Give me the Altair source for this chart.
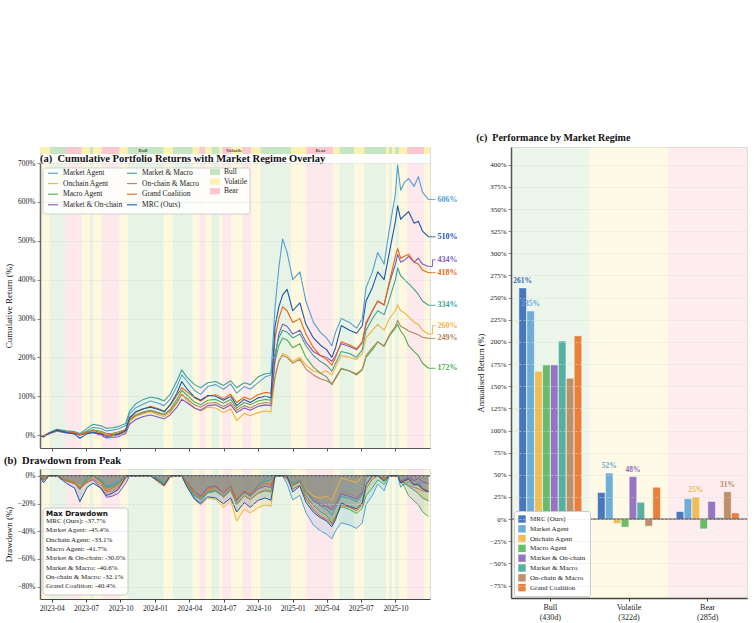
import altair as alt
import pandas as pd

FONT = "Liberation Serif"

# ---------------- data: cumulative returns (%) ----------------
dates = ["2023-03-01","2023-03-10","2023-03-25","2023-04-15","2023-05-10","2023-06-01","2023-06-15",
         "2023-07-05","2023-07-20","2023-08-10","2023-08-25","2023-09-10","2023-09-25","2023-10-15",
         "2023-10-25","2023-11-10","2023-12-01","2023-12-20",
         "2024-01-10","2024-01-25","2024-02-10","2024-02-28","2024-03-12","2024-03-25","2024-04-15",
         "2024-05-01","2024-05-20","2024-06-10","2024-07-01","2024-07-20","2024-08-05","2024-08-25",
         "2024-09-10","2024-10-01","2024-10-20","2024-11-04","2024-11-15","2024-11-25","2024-12-05",
         "2024-12-17",
         "2025-01-01","2025-01-20","2025-02-05","2025-02-25","2025-03-15","2025-04-01","2025-04-15",
         "2025-04-25","2025-05-10","2025-06-01","2025-06-20","2025-07-05","2025-07-15","2025-08-01",
         "2025-08-15","2025-09-01","2025-09-15","2025-10-01","2025-10-07","2025-10-15","2025-10-25",
         "2025-11-05","2025-11-20","2025-12-01","2025-12-12","2025-12-28"]

market_agent = [0,-3,6,13,9,7,2,12,20,17,11,13,16,25,55,70,80,88,
                82,76,92,125,155,140,115,105,125,130,118,132,108,125,118,135,150,155,330,430,505,470,
                400,420,345,290,265,250,230,265,300,290,275,300,380,420,470,440,530,620,695,630,650,660,640,665,625,606]
onchain_agent = [0,-2,5,11,8,6,3,6,8,3,-4,-3,0,8,35,48,55,60,
                 52,48,58,82,105,90,70,62,72,70,58,68,38,56,50,58,62,60,150,190,210,205,
                 190,200,180,165,160,165,155,175,205,200,195,210,250,270,285,270,300,320,335,320,315,305,290,285,270,260]
macro_agent = [0,-3,5,12,9,7,2,9,14,10,4,5,8,14,40,52,60,64,
               58,54,66,92,115,104,85,78,90,92,82,92,70,84,78,88,92,90,190,230,250,245,
               225,235,200,175,160,150,130,148,172,165,155,168,200,220,240,228,255,275,285,268,255,230,215,205,185,172]
market_onchain = [0,-2,4,10,6,4,0,5,7,0,-7,-6,-4,4,28,40,48,52,
                  46,42,52,72,92,84,70,64,76,78,68,78,58,70,64,74,78,76,200,260,285,280,
                  260,270,240,215,205,200,190,205,235,228,220,238,285,320,345,335,390,440,465,445,450,460,445,455,440,434]
market_macro = [0,-2,6,15,11,9,4,18,28,24,18,19,22,30,62,80,92,98,
                94,88,105,140,168,150,130,122,135,138,128,140,122,135,130,150,158,160,210,250,270,265,
                250,260,230,205,190,180,165,185,215,210,200,220,270,300,320,310,350,400,430,410,400,390,375,362,345,334]
onchain_macro = [0,-2,5,11,8,6,2,6,9,4,-2,-1,2,10,38,50,58,62,
                 56,52,62,85,105,95,78,72,82,84,74,84,64,76,70,80,84,82,150,190,205,200,
                 185,195,170,155,145,140,132,145,170,165,158,170,205,225,240,230,258,280,295,280,275,268,262,258,252,249]
grand_coalition = [0,-3,5,12,8,6,1,8,12,7,0,2,5,15,42,58,68,74,
                   68,62,76,102,122,112,96,88,100,104,94,105,84,98,92,104,110,108,250,300,330,320,
                   290,300,260,225,205,195,180,200,240,232,222,240,290,320,345,335,395,460,480,455,460,465,445,440,425,418]
mrc_ours = [0,-5,4,13,7,3,-8,4,7,3,-3,-1,2,12,45,60,68,72,
            66,60,78,108,138,120,98,90,102,100,90,100,76,92,84,96,100,96,280,330,360,375,
            320,340,285,250,232,220,200,225,282,270,262,282,345,380,420,400,470,550,590,555,565,575,545,550,525,510]

SERIES = ["Market Agent", "Onchain Agent", "Macro Agent", "Market & On-chain",
          "Market & Macro", "On-chain & Macro", "Grand Coalition", "MRC (Ours)"]
COLORS = ["#519fd3", "#f3b23a", "#4caf50", "#7e57c2", "#3ba396", "#b5835a", "#e8650f", "#1a56b0"]
series_values = [market_agent, onchain_agent, macro_agent, market_onchain,
                 market_macro, onchain_macro, grand_coalition, mrc_ours]

# ---------------- regimes ----------------
REGIMES = ["Bull", "Volatile", "Bear"]
seg_start = ["2023-03-01","2023-03-27","2023-05-09","2023-06-20","2023-07-12","2023-07-20","2023-08-12",
             "2023-09-29","2023-10-20","2024-01-24","2024-02-17","2024-04-10","2024-04-28","2024-05-14",
             "2024-05-30","2024-06-20","2024-06-28","2024-07-22","2024-08-20","2024-09-13","2024-10-07",
             "2024-12-28","2025-02-06","2025-04-19","2025-05-05","2025-06-14","2025-07-10","2025-09-06",
             "2025-09-14","2025-09-22","2025-09-30","2025-10-11","2025-11-01","2025-12-16"]
seg_regime = ["Volatile","Bull","Bear","Volatile","Bull","Volatile","Bear","Volatile","Bull","Volatile",
              "Bull","Volatile","Bear","Volatile","Bull","Volatile","Bear","Volatile","Bear","Volatile",
              "Bull","Volatile","Bear","Volatile","Bull","Volatile","Bull","Volatile","Bull","Volatile",
              "Bull","Volatile","Bear","Volatile"]
seg_end = seg_start[1:] + ["2026-01-01"]
strip_label_dates = ["2023-11-30", "2024-07-29", "2025-03-16"]

# ---------------- panel (c) annualised returns ----------------
AGENTS = ["MRC (Ours)", "Market Agent", "Onchain Agent", "Macro Agent", "Market & On-chain",
          "Market & Macro", "On-chain & Macro", "Grand Coalition"]
AGENT_COLORS = ["#3a6cb8", "#62a8d6", "#f2b84a", "#5cb85c", "#8e6bbf", "#4aab9a", "#b8895f", "#e8762b"]
regime_days = [430, 322, 285]
ann_bull = [261, 235, 167, 174, 174, 201, 159, 207]
ann_volatile = [30, 52, -5, -9, 48, 19, -8, 36]
ann_bear = [8.6, 23, 25, -11, 20, 2, 31, 7]

# ---------------- max drawdown box ----------------
mdd_names = ["MRC (Ours)", "Market Agent", "Onchain Agent", "Macro Agent", "Market & On-chain",
             "Market & Macro", "On-chain & Macro", "Grand Coalition"]
mdd_values = [-37.7, -45.4, -33.1, -41.7, -30.0, -40.6, -32.1, -40.4]

x_tick_dates = ["2023-04-01","2023-07-01","2023-10-01","2024-01-01","2024-04-01","2024-07-01",
                "2024-10-01","2025-01-01","2025-04-01","2025-07-01","2025-10-01"]

# ---------------- build tables ----------------
rows = []
for name, vals in zip(SERIES, series_values):
    for d, v in zip(dates, vals):
        rows.append({"date": d, "series": name, "value": v})
df = pd.DataFrame(rows)

seg_df = pd.DataFrame({"start": seg_start, "end": seg_end, "regime": seg_regime})
strip_lab_df = pd.DataFrame({"d": strip_label_dates, "t": REGIMES})
reg_leg_df = pd.DataFrame({"regime": REGIMES})

final = {n: v[-1] for n, v in zip(SERIES, series_values)}
GAP = 33
label_y = {}
prev = None
for s in sorted(SERIES, key=lambda k: final[k]):
    y = final[s]
    if prev is not None and y < prev + GAP:
        y = prev + GAP
    label_y[s] = y
    prev = y
end_df = pd.DataFrame({"series": SERIES, "date": [dates[-1]] * len(SERIES),
                       "value": [final[s] for s in SERIES],
                       "label_y": [label_y[s] for s in SERIES],
                       "text": [f"{final[s]:.0f}%" for s in SERIES]})

rlabels = [f"{r}|({d}d)" for r, d in zip(REGIMES, regime_days)]
crow = []
for rl, vals in zip(rlabels, [ann_bull, ann_volatile, ann_bear]):
    for a, v in zip(AGENTS, vals):
        crow.append({"rlabel": rl, "agent": a, "value": v})
df_c = pd.DataFrame(crow)
df_c["rank"] = df_c.groupby("rlabel")["value"].rank(ascending=False)
top_c = df_c[df_c["rank"] <= 2].copy()
top_c["text"] = top_c["value"].map(lambda v: f"{v:.0f}%")
bg_c = pd.DataFrame({"rlabel": rlabels, "regime": REGIMES})

one = pd.DataFrame({"k": [0]})
mdd_text = "\n".join(f"{n}: {v:.1f}%" for n, v in zip(mdd_names, mdd_values))

# ---------------- shared settings ----------------
W, HB = 390, 130
TOP_A = 16            # strip + title band inside panel (a)
HA = 285 + TOP_A
WC, HC = 236, 451
REG_STRONG = ["#c6e5c2", "#fdf1b0", "#fbc8cf"]
MINUS = "\u2212"

AX = dict(labelFont=FONT, titleFont=FONT, titleFontWeight="normal", titleColor="#111",
          labelColor="#222")

xscale = alt.Scale(type="utc", nice=False,
                   domain=[alt.DateTime(year=2023, month=3, date=1, utc=True),
                           alt.DateTime(year=2026, month=1, date=1, utc=True)])
xticks = [alt.DateTime(year=int(s[:4]), month=int(s[5:7]), date=1, utc=True) for s in x_tick_dates]
reg_scale = alt.Scale(domain=REGIMES, range=REG_STRONG)
stroke_scale = alt.Scale(domain=SERIES, range=COLORS)
color_scale = alt.Scale(domain=SERIES, range=COLORS)

xax_a = alt.Axis(title=None, values=xticks, labels=False, ticks=True, tickSize=3, grid=False,
                 domainColor="#555", tickColor="#555", **AX)
xax_b = alt.Axis(title=None, values=xticks, format="%Y-%m", labelFontSize=7.5, tickSize=3,
                 grid=False, labelPadding=2, domainColor="#444", tickColor="#444", **AX)

ysc_a = alt.Scale(domain=[-33, 700], range=[HA, TOP_A], nice=False, zero=False)
yax_a = alt.Axis(title="Cumulative Return (%)", values=list(range(0, 701, 100)),
                 labelExpr="datum.value + '%'", grid=True, gridDash=[2, 2], gridColor="#d0d0d0",
                 gridWidth=0.6, zindex=1, tickSize=3, labelFontSize=7.5, titleFontSize=9,
                 domainWidth=1.5, domainColor="#666", titlePadding=4, labelPadding=2, **AX)

ysc_b = alt.Scale(domain=[-89, 5], nice=False, zero=False)
yax_b = alt.Axis(title="Drawdown (%)", values=[0, -20, -40, -60, -80],
                 labelExpr=f"datum.value < 0 ? '{MINUS}' + (-datum.value) + '%' : datum.value + '%'",
                 grid=True, gridDash=[2, 2], gridColor="#d0d0d0", gridWidth=0.6, zindex=1,
                 tickSize=3, labelFontSize=7.5, titleFontSize=9, domainWidth=1.5, domainColor="#666",
                 titlePadding=4, labelPadding=2, **AX)

def X(field, ax):
    return alt.X(f"{field}:T", scale=xscale, axis=ax)

THIN = SERIES[:6]

# ---------------- panel (a) ----------------
bg_a = alt.Chart(seg_df).mark_rect(opacity=0.42).encode(
    x=X("start", xax_a), x2="end:T", y=alt.value(TOP_A), y2=alt.value(HA),
    color=alt.Color("regime:N", scale=reg_scale, legend=None))

strip = alt.Chart(seg_df).mark_rect(opacity=1).encode(
    x=X("start", xax_a), x2="end:T", y=alt.value(0), y2=alt.value(7),
    color=alt.Color("regime:N", scale=reg_scale, legend=None))

# legend carrier for the regime patches (zero-area marks, own fill scale)
reg_leg = alt.Chart(reg_leg_df).mark_square(size=0, opacity=1).encode(
    x=alt.value(0), y=alt.value(TOP_A + 20),
    fill=alt.Fill("regime:N", scale=reg_scale,
                  legend=alt.Legend(orient="none", legendX=170, legendY=TOP_A + 4, title=None,
                                    symbolType="M-1,-0.62L1,-0.62L1,0.62L-1,0.62Z", symbolSize=100,
                                    symbolStrokeWidth=0, symbolOpacity=1, labelFont=FONT,
                                    labelFontSize=7.5, labelColor="#222", rowPadding=0.6,
                                    padding=0, labelOffset=4)))

strip_txt = alt.Chart(strip_lab_df).mark_text(font=FONT, fontSize=5, fontWeight="bold",
                                              color="#555", baseline="middle").encode(
    x=X("d", xax_a), y=alt.value(3.2), text="t:N")

leg_box = alt.Chart(one).mark_rect(fill="white", fillOpacity=0.85, stroke="#c8c8c8",
                                   strokeWidth=0.8, cornerRadius=2).encode(
    x=alt.value(3), x2=alt.value(210), y=alt.value(TOP_A + 5), y2=alt.value(TOP_A + 51))

def line_layer(data_chart, members, legend):
    return data_chart.transform_filter(
        alt.FieldOneOfPredicate(field="series", oneOf=members)
    ).mark_line(strokeJoin="round").encode(
        x=X("date", xax_a),
        y=alt.Y("value:Q", scale=ysc_a, axis=yax_a),
        stroke=alt.Stroke("series:N", scale=stroke_scale, legend=legend),
        strokeWidth=alt.StrokeWidth("series:N", legend=None,
                                    scale=alt.Scale(domain=SERIES,
                                                    range=[1.1] * 6 + [1.9, 2.7])),
        detail="series:N")

line_legend = alt.Legend(orient="none", legendX=7, legendY=TOP_A + 4, columns=2, values=SERIES,
                         title=None, labelFont=FONT, labelFontSize=7.5, labelColor="#222",
                         symbolType="stroke", symbolSize=100, symbolStrokeWidth=1.6,
                         rowPadding=0.6, columnPadding=1, labelOffset=4, padding=0, labelLimit=150)

base_a = alt.Chart(df)
la_thin = line_layer(base_a, THIN, line_legend)
la_gc = line_layer(base_a, ["Grand Coalition"], None)
la_mrc = line_layer(base_a, ["MRC (Ours)"], None)

lead_c = alt.Color("series:N", scale=color_scale, legend=None)
lead1 = alt.Chart(end_df).mark_rule(strokeWidth=0.9, x2Offset=4).encode(
    x=X("date", xax_a), x2="date:T", y=alt.Y("value:Q", scale=ysc_a, axis=yax_a), color=lead_c)
lead2 = alt.Chart(end_df).mark_rule(strokeWidth=0.9, xOffset=4).encode(
    x=X("date", xax_a), y=alt.Y("value:Q", scale=ysc_a, axis=yax_a), y2="label_y:Q", color=lead_c)
lead3 = alt.Chart(end_df).mark_rule(strokeWidth=0.9, xOffset=4, x2Offset=7).encode(
    x=X("date", xax_a), x2="date:T", y=alt.Y("label_y:Q", scale=ysc_a, axis=yax_a), color=lead_c)
end_txt = alt.Chart(end_df).mark_text(align="left", baseline="middle", dx=9, font=FONT,
                                      fontSize=8, fontWeight="bold").encode(
    x=X("date", xax_a), y=alt.Y("label_y:Q", scale=ysc_a, axis=yax_a), text="text:N", color=lead_c)

title_a = alt.Chart(one).mark_text(align="left", baseline="middle", font=FONT, fontSize=10.5,
                                   fontWeight="bold", color="#111").encode(
    x=alt.value(0), y=alt.value(11.6),
    text=alt.value("(a)\u00a0\u00a0Cumulative Portfolio Returns with Market Regime Overlay"))

panel_a = alt.layer(bg_a, strip, strip_txt, leg_box, la_thin, la_gc, la_mrc,
                    lead1, lead2, lead3, end_txt, title_a, reg_leg).resolve_scale(
    color="independent").properties(width=W, height=HA)

# ---------------- panel (b) ----------------
dd_base = alt.Chart(df).transform_window(
    peak="max(value)", groupby=["series"], sort=[alt.SortField("date")], frame=[None, 0]
).transform_calculate(dd="((1 + datum.value / 100) / (1 + datum.peak / 100) - 1) * 100")

bg_b = alt.Chart(seg_df).mark_rect(opacity=0.42).encode(
    x=X("start", xax_b), x2="end:T", y=alt.value(0), y2=alt.value(HB),
    fill=alt.Fill("regime:N", scale=reg_scale, legend=None))
area_b = dd_base.mark_area(opacity=0.16).encode(
    x=X("date", xax_b), y=alt.Y("dd:Q", scale=ysc_b, axis=yax_b, stack=None), y2=alt.datum(0),
    color=alt.Color("series:N", scale=color_scale, legend=None), detail="series:N")

wb = [1.0] * 6 + [1.6, 2.3]

def dd_lines(members):
    return dd_base.transform_filter(
        alt.FieldOneOfPredicate(field="series", oneOf=members)
    ).mark_line(strokeJoin="round").encode(
        x=X("date", xax_b), y=alt.Y("dd:Q", scale=ysc_b, axis=yax_b),
        stroke=alt.Stroke("series:N", scale=stroke_scale, legend=None),
        strokeWidth=alt.StrokeWidth("series:N", legend=None,
                                    scale=alt.Scale(domain=SERIES, range=wb)),
        detail="series:N")

lb_thin = dd_lines(THIN)
lb_gc = dd_lines(["Grand Coalition"])
lb_mrc = dd_lines(["MRC (Ours)"])
zero_b = alt.Chart(one).mark_rule(color="#444", strokeWidth=1.1).encode(
    y=alt.Y("k:Q", scale=ysc_b, axis=yax_b))

box_rect = alt.Chart(one).mark_rect(fill="white", fillOpacity=0.9, stroke="#bdbdbd",
                                    strokeWidth=0.8, cornerRadius=3).encode(
    x=alt.value(3), x2=alt.value(88), y=alt.value(39), y2=alt.value(126))
box_title = alt.Chart(one).mark_text(align="left", baseline="middle", font="DejaVu Sans",
                                     fontWeight="bold", fontSize=7.2, color="#111").encode(
    x=alt.value(6), y=alt.value(44.5), text=alt.value("Max Drawdown"))
box_body = alt.Chart(pd.DataFrame({"t": [mdd_text]})).mark_text(
    align="left", baseline="top", lineBreak="\n", lineHeight=9.3, font=FONT, fontSize=7,
    color="#222").encode(x=alt.value(6), y=alt.value(48), text="t:N")

panel_b = alt.layer(bg_b, area_b, lb_thin, lb_gc, lb_mrc, zero_b, box_rect, box_title, box_body).properties(
    width=W, height=HB,
    title=alt.TitleParams("(b)\u00a0\u00a0Drawdown from Peak", anchor="start", font=FONT, fontSize=10.5,
                          fontWeight="bold", offset=3, color="#111"))

# ---------------- panel (c) ----------------
xsc_c = alt.Scale(domain=rlabels, paddingInner=0, paddingOuter=0)
xax_c = alt.Axis(title=None, labelExpr="split(datum.label, '|')", labelAngle=0, labelFontSize=8,
                 labelLineHeight=10, tickSize=3, labelPadding=2, domainColor="#444",
                 domainWidth=1.3, tickColor="#444", **AX)
ysc_c = alt.Scale(domain=[-89, 420], nice=False, zero=False)
yax_c = alt.Axis(title="Annualised Return (%)", values=list(range(-75, 401, 25)),
                 labelExpr=f"datum.value < 0 ? '{MINUS}' + (-datum.value) + '%' : datum.value + '%'",
                 grid=True, gridDash=[2, 2], gridColor="#d8d8d8", gridWidth=0.6, zindex=1,
                 tickSize=3, labelFontSize=7, titleFontSize=8.5, domainWidth=1.5, domainColor="#555",
                 titlePadding=4, labelPadding=2, **AX)
xoff = alt.XOffset("agent:N", sort=AGENTS,
                   scale=alt.Scale(domain=AGENTS, paddingOuter=1, paddingInner=0.04))

bgc = alt.Chart(bg_c).mark_rect(opacity=0.33).encode(
    x=alt.X("rlabel:N", scale=xsc_c, axis=xax_c, sort=rlabels),
    y=alt.value(0), y2=alt.value(HC),
    color=alt.Color("regime:N", scale=alt.Scale(domain=REGIMES, range=REG_STRONG), legend=None))
bars = alt.Chart(df_c).mark_bar(opacity=0.92, stroke="white", strokeWidth=0.5).encode(
    x=alt.X("rlabel:N", scale=xsc_c, axis=xax_c, sort=rlabels), xOffset=xoff,
    y=alt.Y("value:Q", scale=ysc_c, axis=yax_c),
    fill=alt.Fill("agent:N", scale=alt.Scale(domain=AGENTS, range=AGENT_COLORS),
                  legend=alt.Legend(orient="none", legendX=3, legendY=364, title=None,
                                    symbolType="square", symbolSize=55, symbolStrokeWidth=0,
                                    labelFont=FONT, labelFontSize=7, labelColor="#222",
                                    rowPadding=1.8, padding=4, fillColor="white",
                                    strokeColor="#cccccc", cornerRadius=2, labelOffset=4)))
zero_c = alt.Chart(one).mark_rule(color="#555", strokeWidth=1.2).encode(
    y=alt.Y("k:Q", scale=ysc_c, axis=yax_c))
lab_c = alt.Chart(top_c).mark_text(dy=-7, font=FONT, fontSize=7.5, fontWeight="bold",
                                   baseline="middle").encode(
    x=alt.X("rlabel:N", scale=xsc_c, axis=xax_c, sort=rlabels), xOffset=xoff,
    y=alt.Y("value:Q", scale=ysc_c, axis=yax_c), text="text:N",
    color=alt.Color("agent:N", scale=alt.Scale(domain=AGENTS, range=AGENT_COLORS), legend=None))

panel_c = alt.layer(bgc, bars, zero_c, lab_c).resolve_scale(color="independent").properties(
    width=WC, height=HC,
    title=alt.TitleParams("(c)\u00a0\u00a0Performance by Market Regime", anchor="start", font=FONT,
                          fontSize=10, fontWeight="bold", offset=4, color="#111"))

RES = dict(color="independent", fill="independent", stroke="independent",
           strokeWidth="independent", x="independent", y="independent")

left = alt.vconcat(panel_a, panel_b, spacing=3).resolve_scale(**RES)
chart = alt.hconcat(left, panel_c, spacing=17).resolve_scale(**RES).properties(
    padding={"left": 3, "top": 132, "right": 2, "bottom": 2}
).configure_view(stroke=None).configure(background="white")

chart.save("out.html", embed_options={"renderer": "svg", "actions": False})
